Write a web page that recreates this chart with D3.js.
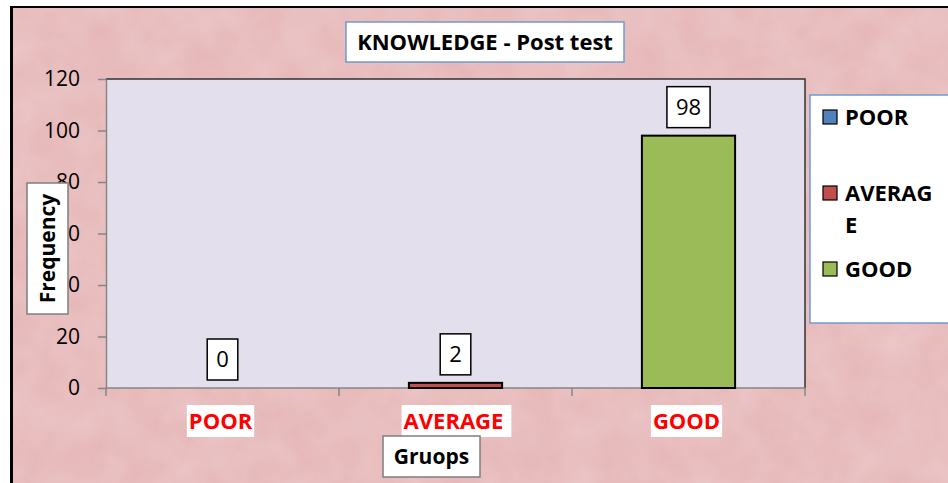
<!DOCTYPE html>
<html>
<head>
<meta charset="utf-8">
<script src="https://cdn.jsdelivr.net/npm/d3@7"></script>
<style>
  html, body { margin: 0; padding: 0; background: #fff; }
  svg { display: block; font-family: "Open Sans", sans-serif; }
</style>
</head>
<body>
<div id="chart"></div>
<script>
// data
var categories = ["POOR", "AVERAGE", "GOOD"];
var values = [0, 2, 98];
var colors = ["#4f81bd", "#c0504d", "#9bbb59"];
var yTicks = [0, 20, 40, 60, 80, 100, 120];
var title = "KNOWLEDGE - Post test";
var xTitle = "Gruops";
var yTitle = "Frequency";

var W = 948, H = 483;
var plot = { left: 106, top: 79, right: 805, bottom: 388 };

var svg = d3.select("#chart").append("svg")
    .attr("width", W)
    .attr("height", H);

// marble-ish pink texture
var defs = svg.append("defs");
var f = defs.append("filter").attr("id", "marble")
    .attr("x", 0).attr("y", 0).attr("width", "100%").attr("height", "100%");
f.append("feTurbulence").attr("type", "fractalNoise")
    .attr("baseFrequency", "0.025").attr("numOctaves", 4).attr("seed", 3);
f.append("feColorMatrix").attr("type", "matrix")
    .attr("values", "0 0 0 0 1  0 0 0 0 1  0 0 0 0 1  0 0 0 0.28 -0.05");

// outer frame
svg.append("rect").attr("x", 10).attr("y", 6).attr("width", W).attr("height", H)
    .attr("fill", "#000");
svg.append("rect").attr("x", 13).attr("y", 8).attr("width", W).attr("height", H)
    .attr("fill", "#e6b7b8");
svg.append("rect").attr("x", 13).attr("y", 8).attr("width", W).attr("height", H)
    .attr("filter", "url(#marble)");

// scales
var x = d3.scaleBand()
    .domain(categories)
    .range([plot.left, plot.right])
    .paddingInner(0.6)
    .paddingOuter(0.3);

var y = d3.scaleLinear()
    .domain([0, 120])
    .range([plot.bottom, plot.top]);

// plot area
svg.append("rect")
    .attr("x", plot.left).attr("y", plot.top)
    .attr("width", plot.right - plot.left)
    .attr("height", plot.bottom - plot.top)
    .attr("fill", "#e4dfec");
svg.append("path")
    .attr("d", "M" + plot.left + "," + plot.top + "H" + plot.right + "V" + plot.bottom)
    .attr("fill", "none").attr("stroke", "#333").attr("stroke-width", 1.5);

// y axis
var yAxis = svg.append("g")
    .attr("transform", "translate(" + plot.left + ",0)")
    .call(d3.axisLeft(y).tickValues(yTicks).tickSize(8).tickPadding(18).tickSizeOuter(0));
yAxis.select(".domain").attr("stroke", "#868686").attr("stroke-width", 1.5);
yAxis.selectAll(".tick line").attr("stroke", "#868686").attr("stroke-width", 1.5);
yAxis.selectAll(".tick text")
    .attr("font-size", 21).attr("fill", "#000")
    .style("font-family", "'Open Sans', sans-serif");

// x axis with ticks on the category boundaries
var bounds = categories.map(function (c) {
    return x(c) + x.bandwidth() / 2 - x.step() / 2;
});
bounds.push(x(categories[categories.length - 1]) + x.bandwidth() / 2 + x.step() / 2);

var xAxis = svg.append("g");
xAxis.append("line")
    .attr("x1", plot.left).attr("x2", plot.right)
    .attr("y1", plot.bottom).attr("y2", plot.bottom)
    .attr("stroke", "#868686").attr("stroke-width", 1.5);
xAxis.selectAll(".btick")
    .data(bounds)
    .enter()
    .append("line")
    .attr("x1", function (d) { return d; })
    .attr("x2", function (d) { return d; })
    .attr("y1", plot.bottom)
    .attr("y2", plot.bottom + 8)
    .attr("stroke", "#868686").attr("stroke-width", 1.5);

// bars
svg.selectAll(".bar")
    .data(values)
    .enter()
    .append("rect")
    .attr("x", function (d, i) { return x(categories[i]); })
    .attr("y", function (d) { return y(d); })
    .attr("width", x.bandwidth())
    .attr("height", function (d) { return y(0) - y(d); })
    .attr("fill", function (d, i) { return colors[i]; })
    .attr("stroke", "#000")
    .attr("stroke-width", function (d) { return d > 0 ? 2 : 0; });

// value labels in white boxes
values.forEach(function (v, i) {
    var cx = x(categories[i]) + x.bandwidth() / 2;
    var g = svg.append("g");
    var r = g.append("rect");
    var t = g.append("text")
        .attr("x", cx)
        .attr("y", y(v) - 8 - 13)
        .attr("text-anchor", "middle")
        .attr("font-size", 22)
        .attr("fill", "#000")
        .text(v);
    var tw = t.node().getComputedTextLength();
    r.attr("x", cx - tw / 2 - 9)
        .attr("y", y(v) - 8 - 41)
        .attr("width", tw + 18)
        .attr("height", 41)
        .attr("fill", "#fff")
        .attr("stroke", "#000")
        .attr("stroke-width", 1.5);
});

// category labels, red on white
categories.forEach(function (c, i) {
    var cx = x(c) + x.bandwidth() / 2 - 2;
    var g = svg.append("g");
    var r = g.append("rect");
    var t = g.append("text")
        .attr("x", cx)
        .attr("y", 429)
        .attr("text-anchor", "middle")
        .attr("font-size", 22)
        .attr("font-weight", "bold")
        .attr("fill", "#ff0000")
        .text(c);
    var tw = t.node().getComputedTextLength();
    r.attr("x", cx - tw / 2 - 2).attr("y", 405)
        .attr("width", tw + (c.length > 5 ? 10 : 4)).attr("height", 32)
        .attr("fill", "#fff");
});

// x title
var xtg = svg.append("g");
xtg.append("rect").attr("x", 383).attr("y", 436).attr("width", 97).attr("height", 41)
    .attr("fill", "#fff").attr("stroke", "#7f7f7f").attr("stroke-width", 1.5);
xtg.append("text").attr("x", 431.5).attr("y", 464)
    .attr("text-anchor", "middle").attr("font-size", 21).attr("font-weight", "bold")
    .text(xTitle);

// y title (sits over the tick labels, as in the original)
var ytg = svg.append("g");
ytg.append("rect").attr("x", 27).attr("y", 183).attr("width", 41).attr("height", 131)
    .attr("fill", "#fff").attr("stroke", "#7f7f7f").attr("stroke-width", 1.5);
ytg.append("text")
    .attr("transform", "translate(55,248.5) rotate(-90)")
    .attr("text-anchor", "middle").attr("font-size", 21).attr("font-weight", "bold")
    .text(yTitle);

// chart title
var tg = svg.append("g");
tg.append("rect").attr("x", 346).attr("y", 22).attr("width", 278).attr("height", 40)
    .attr("fill", "#fff").attr("stroke", "#6f9bd1").attr("stroke-width", 1.5);
tg.append("text").attr("x", 485).attr("y", 50)
    .attr("text-anchor", "middle").attr("font-size", 22).attr("font-weight", "bold")
    .text(title);

// legend
var lg = svg.append("g");
lg.append("rect").attr("x", 810).attr("y", 95).attr("width", 150).attr("height", 228)
    .attr("fill", "#fff").attr("stroke", "#6f9bd1").attr("stroke-width", 1.5);

var legendY = [117, 193, 269];
var maxW = 92;
categories.forEach(function (c, i) {
    lg.append("rect")
        .attr("x", 823).attr("y", legendY[i] - 7)
        .attr("width", 14).attr("height", 14)
        .attr("fill", colors[i]).attr("stroke", "#000").attr("stroke-width", 1.2);
    var t = lg.append("text")
        .attr("x", 845).attr("y", legendY[i] + 8)
        .attr("font-size", 22).attr("font-weight", "bold");
    // wrap by characters when the name is too wide for the box
    var line = "", lines = [];
    c.split("").forEach(function (ch) {
        t.text(line + ch);
        if (t.node().getComputedTextLength() > maxW && line) {
            lines.push(line);
            line = ch;
        } else {
            line += ch;
        }
    });
    lines.push(line);
    t.text(null);
    lines.forEach(function (l, k) {
        t.append("tspan").attr("x", 845).attr("dy", k === 0 ? 0 : 32).text(l);
    });
});
</script>
</body>
</html>
